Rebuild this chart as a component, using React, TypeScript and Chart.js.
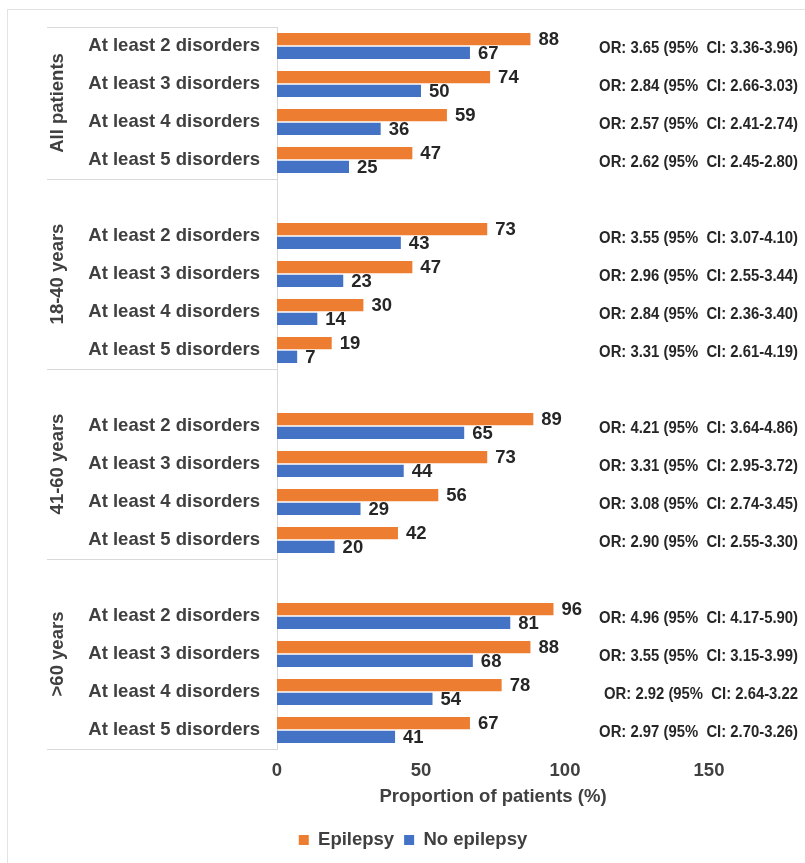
import React, { useEffect, useRef } from "react";
import { Chart, registerables } from "chart.js";

Chart.register(...registerables);

const CATEGORIES = [
  "At least 2 disorders", "At least 3 disorders", "At least 4 disorders", "At least 5 disorders",
  "",
  "At least 2 disorders", "At least 3 disorders", "At least 4 disorders", "At least 5 disorders",
  "",
  "At least 2 disorders", "At least 3 disorders", "At least 4 disorders", "At least 5 disorders",
  "",
  "At least 2 disorders", "At least 3 disorders", "At least 4 disorders", "At least 5 disorders",
];

const GROUP_NAMES = ["All patients", "18-40 years", "41-60 years", ">60 years"];
const GROUP_SPANS = [[0, 3], [4, 8], [9, 13], [14, 18]];

const EPILEPSY = [88, 74, 59, 47, null, 73, 47, 30, 19, null, 89, 73, 56, 42, null, 96, 88, 78, 67];
const NO_EPILEPSY = [67, 50, 36, 25, null, 43, 23, 14, 7, null, 65, 44, 29, 20, null, 81, 68, 54, 41];

const OR_TEXTS = [
  "OR: 3.65 (95%  CI: 3.36-3.96)", "OR: 2.84 (95%  CI: 2.66-3.03)", "OR: 2.57 (95%  CI: 2.41-2.74)", "OR: 2.62 (95%  CI: 2.45-2.80)",
  "",
  "OR: 3.55 (95%  CI: 3.07-4.10)", "OR: 2.96 (95%  CI: 2.55-3.44)", "OR: 2.84 (95%  CI: 2.36-3.40)", "OR: 3.31 (95%  CI: 2.61-4.19)",
  "",
  "OR: 4.21 (95%  CI: 3.64-4.86)", "OR: 3.31 (95%  CI: 2.95-3.72)", "OR: 3.08 (95%  CI: 2.74-3.45)", "OR: 2.90 (95%  CI: 2.55-3.30)",
  "",
  "OR: 4.96 (95%  CI: 4.17-5.90)", "OR: 3.55 (95%  CI: 3.15-3.99)", "OR: 2.92 (95%  CI: 2.64-3.22", "OR: 2.97 (95%  CI: 2.70-3.26)",
];

const X_MIN = 0;
const X_MAX = 150;
const X_STEP = 50;
const X_TITLE = "Proportion of patients (%)";
const SERIES_NAMES = ["Epilepsy", "No epilepsy"];

const FONT = "'Liberation Sans', Arial, sans-serif";
const ORANGE = "#ED7D31";
const BLUE = "#4472C4";
const TEXT = "#404040";
const DARK = "#262626";
const LINE = "#D9D9D9";

const decorPlugin = {
  id: "decor",
  beforeDraw(chart: any) {
    const ctx = chart.ctx;
    ctx.save();
    ctx.fillStyle = "#ffffff";
    ctx.fillRect(0, 0, chart.width, chart.height);
    ctx.strokeStyle = "#E3E3E3";
    ctx.lineWidth = 1;
    ctx.strokeRect(7.5, 9.5, chart.width + 10, chart.height + 10);
    ctx.restore();
  },
  afterDatasetsDraw(chart: any) {
    const ctx = chart.ctx;
    ctx.save();
    ctx.font = `bold 18.5px ${FONT}`;
    ctx.fillStyle = DARK;
    ctx.textAlign = "left";
    ctx.textBaseline = "middle";
    chart.data.datasets.forEach((ds: any, di: number) => {
      const meta = chart.getDatasetMeta(di);
      meta.data.forEach((el: any, i: number) => {
        const v = ds.data[i];
        if (v === null || v === undefined) return;
        ctx.fillText(String(v), el.x + 8, el.y + 1);
      });
    });
    ctx.restore();
  },
  afterDraw(chart: any) {
    const ctx = chart.ctx;
    const ys = chart.scales.y;
    const { left } = chart.chartArea;
    const step = ys.getPixelForValue(1) - ys.getPixelForValue(0);
    ctx.save();
    // category labels
    ctx.font = `bold 18.5px ${FONT}`;
    ctx.fillStyle = TEXT;
    ctx.textAlign = "right";
    ctx.textBaseline = "middle";
    (chart.data.labels as string[]).forEach((lab, i) => {
      if (!lab) return;
      ctx.fillText(lab, left - 17, ys.getPixelForValue(i));
    });
    ctx.strokeStyle = LINE;
    ctx.lineWidth = 1;
    GROUP_SPANS.forEach(([s, e], gi) => {
      const y0 = ys.getPixelForValue(s) - step / 2;
      const y1 = ys.getPixelForValue(e) + step / 2;
      [y0, y1].forEach((yy) => {
        const py = Math.round(yy) + 0.5;
        ctx.beginPath();
        ctx.moveTo(47, py);
        ctx.lineTo(left, py);
        ctx.stroke();
      });
      ctx.save();
      ctx.translate(58, (y0 + y1) / 2);
      ctx.rotate(-Math.PI / 2);
      ctx.font = `bold 18.5px ${FONT}`;
      ctx.fillStyle = TEXT;
      ctx.textAlign = "center";
      ctx.textBaseline = "middle";
      ctx.fillText(GROUP_NAMES[gi], 0, 0);
      ctx.restore();
    });
    // odds ratio annotations (slightly condensed)
    ctx.font = `bold 16.5px ${FONT}`;
    ctx.fillStyle = DARK;
    ctx.textAlign = "right";
    ctx.textBaseline = "middle";
    OR_TEXTS.forEach((t, i) => {
      if (!t) return;
      ctx.save();
      ctx.translate(798, ys.getPixelForValue(i) + 2);
      ctx.scale(0.9, 1);
      ctx.fillText(t, 0, 0);
      ctx.restore();
    });
    ctx.restore();
  },
};

export default function App() {
  const ref = useRef<HTMLCanvasElement | null>(null);

  useEffect(() => {
    document.body.style.margin = "0";
    const canvas = ref.current;
    if (!canvas) return;
    const chart = new Chart(canvas, {
      type: "bar",
      data: {
        labels: CATEGORIES,
        datasets: [
          {
            label: SERIES_NAMES[0],
            data: EPILEPSY,
            backgroundColor: ORANGE,
            borderWidth: 0,
            categoryPercentage: 0.72,
            barPercentage: 0.9,
          },
          {
            label: SERIES_NAMES[1],
            data: NO_EPILEPSY,
            backgroundColor: BLUE,
            borderWidth: 0,
            categoryPercentage: 0.72,
            barPercentage: 0.9,
          },
        ],
      },
      options: {
        indexAxis: "y",
        responsive: false,
        animation: false,
        devicePixelRatio: 1,
        layout: { padding: { left: 117, right: 96, top: 27, bottom: 3.75 } },
        plugins: {
          tooltip: { enabled: false },
          legend: {
            position: "bottom",
            labels: {
              boxWidth: 10,
              boxHeight: 10,
              padding: 10,
              color: TEXT,
              font: { family: FONT, size: 18.5, weight: "bold" },
            },
          },
        },
        scales: {
          x: {
            min: X_MIN,
            max: X_MAX,
            grid: { display: false, drawTicks: false },
            border: { display: false },
            ticks: {
              stepSize: X_STEP,
              padding: 11,
              color: TEXT,
              font: { family: FONT, size: 18.5, weight: "bold" },
            },
            title: {
              display: true,
              text: X_TITLE,
              color: TEXT,
              font: { family: FONT, size: 18.5, weight: "bold" },
              padding: { top: 4, bottom: 12.65 },
            },
            afterFit: (s: any) => {
              s.height = 71.75;
            },
          },
          y: {
            grid: { display: false, drawTicks: false },
            border: { display: true, color: LINE, width: 1 },
            ticks: { display: false, autoSkip: false },
            afterFit: (s: any) => {
              s.width = 160;
            },
          },
        },
      },
      plugins: [decorPlugin],
    } as any);
    return () => chart.destroy();
  }, []);

  return (
    <div style={{ width: 805, height: 863, position: "relative" }}>
      <canvas ref={ref} width={805} height={863} style={{ display: "block", width: 805, height: 863 }} />
    </div>
  );
}
